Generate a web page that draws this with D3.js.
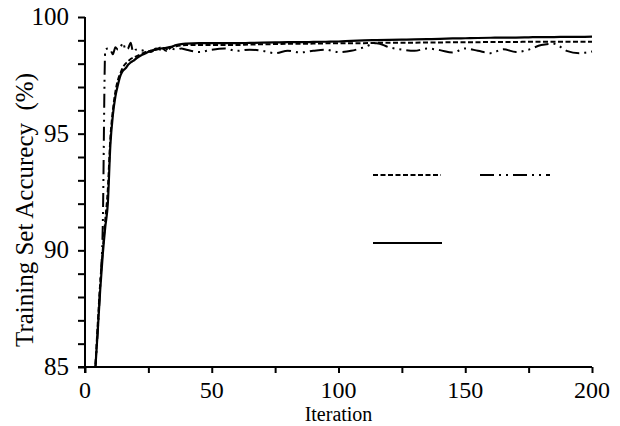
<!DOCTYPE html>
<html><head><meta charset="utf-8">
<script src="https://cdn.jsdelivr.net/npm/d3@7"></script>
<style>
body{margin:0;background:#fff;}
text{font-family:"Liberation Serif","Times New Roman",serif;fill:#000;}
</style></head>
<body><svg id="c" width="620" height="426"></svg>
<script>
const iterations = [4,5,6,7,8,9,10,11,12,13,14,15,16,17,18,19,20,22,24,26,28,30,32,34,36,38,40,45,50,55,60,65,70,75,80,85,90,95,100,105,110,115,120,125,130,135,140,145,150,155,160,165,170,175,180,185,190,195,200];
const seriesDashed = [84.8,86.8,88.6,90.0,91.3,92.6,94.8,96.0,96.8,97.3,97.6,97.85,98.0,98.1,98.2,98.25,98.3,98.4,98.5,98.55,98.6,98.7,98.55,98.7,98.75,98.78,98.8,98.8,98.8,98.8,98.8,98.82,98.83,98.84,98.85,98.85,98.86,98.87,98.87,98.88,98.88,98.89,98.9,98.9,98.9,98.91,98.91,98.92,98.92,98.92,98.93,98.93,98.93,98.94,98.94,98.94,98.94,98.94,98.94];
const seriesDashDot = [84.8,86.5,88.5,91.0,98.6,98.65,98.6,98.4,98.7,98.6,98.7,98.9,98.6,98.65,98.9,98.5,98.6,98.55,98.6,98.5,98.65,98.6,98.62,98.65,98.6,98.65,98.6,98.5,98.6,98.65,98.55,98.6,98.55,98.45,98.55,98.48,98.55,98.6,98.5,98.55,98.7,98.88,98.7,98.6,98.55,98.65,98.58,98.48,98.65,98.55,98.45,98.62,98.5,98.6,98.8,98.85,98.55,98.45,98.52];
const seriesSolid = [84.8,86.5,88.3,89.8,91.0,92.0,94.5,95.8,96.6,97.1,97.5,97.7,97.8,97.95,98.05,98.12,98.2,98.35,98.45,98.55,98.6,98.65,98.68,98.72,98.8,98.84,98.86,98.88,98.88,98.88,98.88,98.89,98.9,98.91,98.92,98.92,98.93,98.94,98.95,98.98,99.0,99.01,99.02,99.03,99.04,99.05,99.06,99.08,99.09,99.1,99.11,99.12,99.12,99.13,99.14,99.14,99.15,99.15,99.16];
const xTicks = [0,25,50,75,100,125,150,175,200];
const xLabels = [0,50,100,150,200];
const yTicks = d3.range(85,101,1);
const yLabels = [85,90,95,100];

const svg = d3.select("#c");
const x = d3.scaleLinear().domain([0,200]).range([85,592]);
const y = d3.scaleLinear().domain([85,100]).range([367,17]);

svg.append("clipPath").attr("id","clip").append("rect")
  .attr("x",x(0)).attr("y",y(100)-3).attr("width",x(200)-x(0)+2).attr("height",y(85)-y(100)+3);

// axes
const xAxis = svg.append("g").attr("transform",`translate(0,${y(85)})`)
  .call(d3.axisBottom(x).tickValues(xTicks).tickSize(6).tickFormat(""));
const yAxis = svg.append("g").attr("transform",`translate(${x(0)},0)`)
  .call(d3.axisLeft(y).tickValues(yTicks).tickSize(7).tickFormat(""));
[xAxis,yAxis].forEach(g=>{
  g.select(".domain").attr("stroke","#000").attr("stroke-width",2);
  g.selectAll(".tick line").attr("stroke","#000").attr("stroke-width",2);
});
yAxis.select(".domain").attr("d",`M0,${y(100)}V${y(85)+6}`);
xAxis.select(".domain").attr("d",`M${x(0)-7},0H${x(200)}`);

svg.append("g").selectAll("text").data(xLabels).join("text")
  .attr("x",d=>x(d)).attr("y",y(85)+31).attr("text-anchor","middle")
  .attr("font-size",24).text(d=>d);
svg.append("g").selectAll("text").data(yLabels).join("text")
  .attr("x",x(0)-16).attr("y",d=>y(d)+8).attr("text-anchor","end")
  .attr("font-size",25).text(d=>d);

svg.append("text").attr("x",(x(0)+x(200))/2).attr("y",421).attr("text-anchor","middle")
  .attr("font-size",20).text("Iteration");
svg.append("text").attr("transform",`translate(33,210) rotate(-90)`)
  .attr("text-anchor","middle").attr("font-size",25).attr("xml:space","preserve")
  .text("Training Set Accurecy  (%)");

const styles = [
  {vals:seriesDashed, dash:"5,2.5", w:2},
  {vals:seriesDashDot, dash:"14,5,2,5,2,5", w:2},
  {vals:seriesSolid, dash:null, w:2.2}
];
const line = d3.line().x(d=>x(d[0])).y(d=>y(d[1])).curve(d3.curveMonotoneX);
const plot = svg.append("g").attr("clip-path","url(#clip)");
styles.forEach(s=>{
  plot.append("path").datum(iterations.map((it,i)=>[it,s.vals[i]]))
    .attr("d",line).attr("fill","none").attr("stroke","#000")
    .attr("stroke-width",s.w).attr("stroke-dasharray",s.dash);
});

// legend (no labels in source)
const legend = [
  {x1:373,x2:441,y:175,s:styles[0]},
  {x1:480,x2:550,y:175,s:styles[1]},
  {x1:373,x2:442,y:243,s:styles[2]}
];
svg.append("g").selectAll("line").data(legend).join("line")
  .attr("x1",d=>d.x1).attr("x2",d=>d.x2).attr("y1",d=>d.y).attr("y2",d=>d.y)
  .attr("stroke","#000").attr("stroke-width",d=>d.s.w).attr("stroke-dasharray",d=>d.s.dash);
</script></body></html>
